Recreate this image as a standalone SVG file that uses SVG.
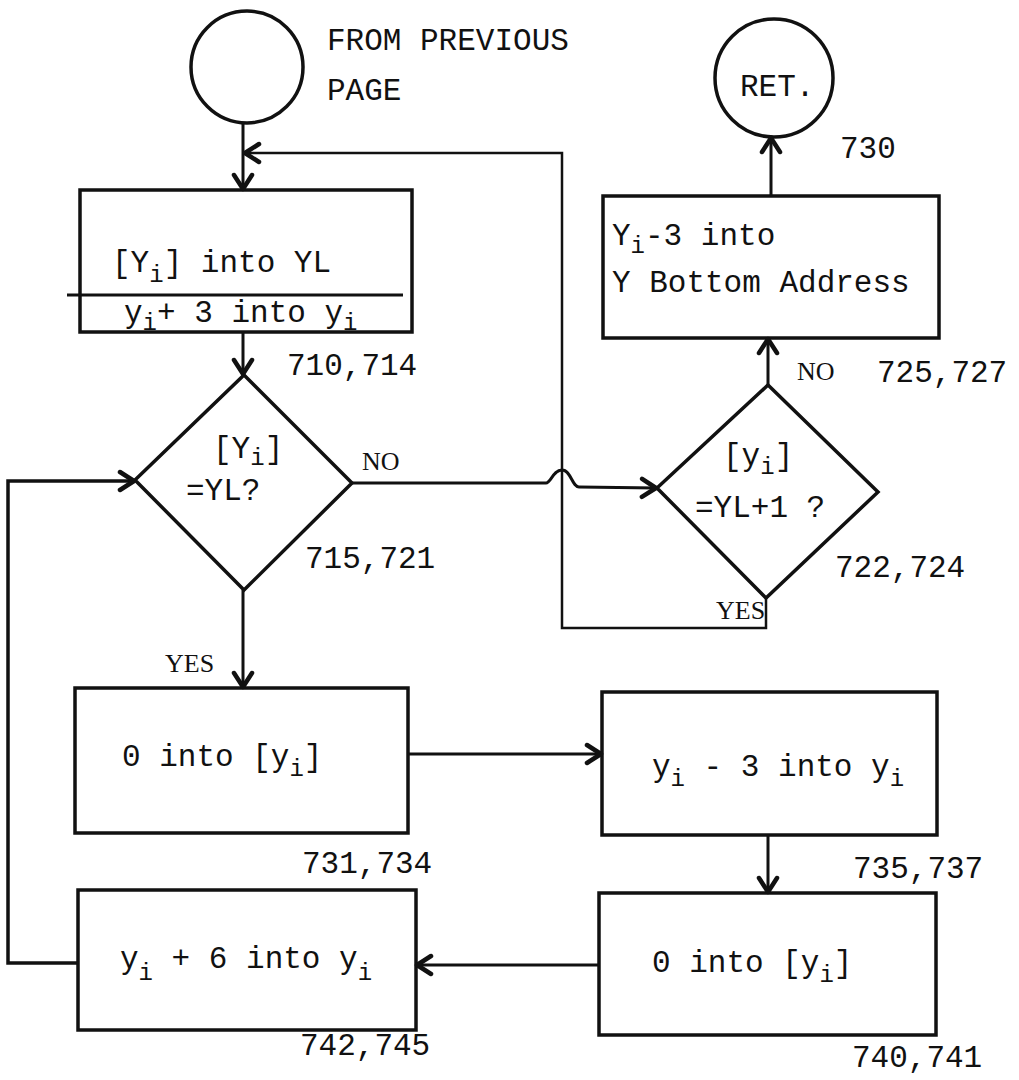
<svg xmlns="http://www.w3.org/2000/svg" width="1019" height="1080" viewBox="0 0 1019 1080">
<style>
.sh{fill:none;stroke:#111;stroke-width:3.5}
.ln{fill:none;stroke:#111;stroke-width:3}
.tx{font-family:"Liberation Mono","DejaVu Sans Mono",monospace;font-size:31px;fill:#111}
.lb{font-family:"Liberation Serif","DejaVu Serif",serif;font-size:26px;fill:#111}
.sb{font-size:24px}
</style>
<defs>
<marker id="ar" markerWidth="24" markerHeight="24" refX="20" refY="12" orient="auto" markerUnits="userSpaceOnUse">
<path d="M6,3 L20,12 L6,21" fill="none" stroke="#111" stroke-width="4.5" stroke-linecap="round" stroke-linejoin="round"/>
</marker>
</defs>
<rect width="1019" height="1080" fill="#fff"/>

<g id="start">
<circle class="sh" cx="247" cy="67" r="56"/>
<text class="tx" x="327" y="50">FROM PREVIOUS</text>
<text class="tx" x="327" y="100">PAGE</text>
</g>

<g id="box1">
<rect class="sh" x="80" y="190" width="332" height="142"/>
<line class="ln" x1="67" y1="295" x2="403" y2="295"/>
<text class="tx" x="112" y="272">[Y<tspan class="sb" dy="10">i</tspan><tspan dy="-10">] into YL</tspan></text>
<text class="tx" x="124" y="322">y<tspan class="sb" dy="8">i</tspan><tspan dy="-8">+ 3 into y</tspan><tspan class="sb" dy="8">i</tspan></text>
<text class="tx" x="287" y="375">710,714</text>
</g>

<g id="dec1">
<polygon class="sh" points="244,375 352,483 244,590 135,480"/>
<text class="tx" x="213" y="458">[Y<tspan class="sb" dy="7">i</tspan><tspan dy="-7">]</tspan></text>
<text class="tx" x="186" y="500">=YL?</text>
<text class="lb" x="362" y="470">NO</text>
<text class="tx" x="305" y="568">715,721</text>
</g>

<g id="ret">
<circle class="sh" cx="774" cy="78" r="59"/>
<text class="tx" x="740" y="96">RET.</text>
<text class="tx" x="840" y="158">730</text>
</g>

<g id="box_ret">
<rect class="sh" x="603" y="196" width="336" height="142"/>
<text class="tx" x="612" y="245">Y<tspan class="sb" dy="8">i</tspan><tspan dy="-8">-3 into</tspan></text>
<text class="tx" x="612" y="292">Y Bottom Address</text>
<text class="tx" x="877" y="382">725,727</text>
</g>

<g id="dec2">
<polygon class="sh" points="768,385 878,492 766,598 657,488"/>
<text class="tx" x="723" y="465">[y<tspan class="sb" dy="9">i</tspan><tspan dy="-9">]</tspan></text>
<text class="tx" x="695" y="517">=YL+1 ?</text>
<text class="lb" x="797" y="380">NO</text>
<text class="lb" x="716" y="619">YES</text>
<text class="tx" x="835" y="577">722,724</text>
</g>

<g id="box2">
<rect class="sh" x="75" y="688" width="333" height="145"/>
<text class="tx" x="122" y="766">0 into [y<tspan class="sb" dy="10">i</tspan><tspan dy="-10">]</tspan></text>
<text class="lb" x="165" y="672">YES</text>
<text class="tx" x="302" y="873">731,734</text>
</g>

<g id="box4">
<rect class="sh" x="602" y="692" width="335" height="143"/>
<text class="tx" x="652" y="776">y<tspan class="sb" dy="10">i</tspan><tspan dy="-10"> - 3 into y</tspan><tspan class="sb" dy="10">i</tspan></text>
<text class="tx" x="853" y="878">735,737</text>
</g>

<g id="box3">
<rect class="sh" x="78" y="890" width="338" height="140"/>
<text class="tx" x="120" y="968">y<tspan class="sb" dy="12">i</tspan><tspan dy="-12"> + 6 into y</tspan><tspan class="sb" dy="12">i</tspan></text>
<text class="tx" x="300" y="1055">742,745</text>
</g>

<g id="box5">
<rect class="sh" x="599" y="893" width="337" height="142"/>
<text class="tx" x="652" y="972">0 into [y<tspan class="sb" dy="10">i</tspan><tspan dy="-10">]</tspan></text>
<text class="tx" x="852" y="1067">740,741</text>
</g>

<g id="connectors">
<line class="ln" x1="243" y1="123" x2="243" y2="189" marker-end="url(#ar)"/>
<polyline class="ln" points="766,598 766,628 562,628 562,153 245,153" marker-end="url(#ar)" style="stroke-width:2.5"/>
<line class="ln" x1="243" y1="332" x2="243" y2="374" marker-end="url(#ar)"/>
<path class="ln" d="M352,483 L546,483 C551,483 553,470 562,470 C571,470 572,487 579,487 L656,488" marker-end="url(#ar)"/>
<line class="ln" x1="768" y1="385" x2="768" y2="339" marker-end="url(#ar)"/>
<line class="ln" x1="771" y1="196" x2="771" y2="138" marker-end="url(#ar)"/>
<line class="ln" x1="243" y1="590" x2="243" y2="687" marker-end="url(#ar)"/>
<line class="ln" x1="408" y1="754" x2="601" y2="754" marker-end="url(#ar)"/>
<line class="ln" x1="768" y1="835" x2="768" y2="892" marker-end="url(#ar)"/>
<line class="ln" x1="599" y1="965" x2="417" y2="965" marker-end="url(#ar)"/>
<polyline class="ln" points="78,963 8,963 8,481 134,481" marker-end="url(#ar)" style="stroke-width:3.5"/>
</g>
</svg>
